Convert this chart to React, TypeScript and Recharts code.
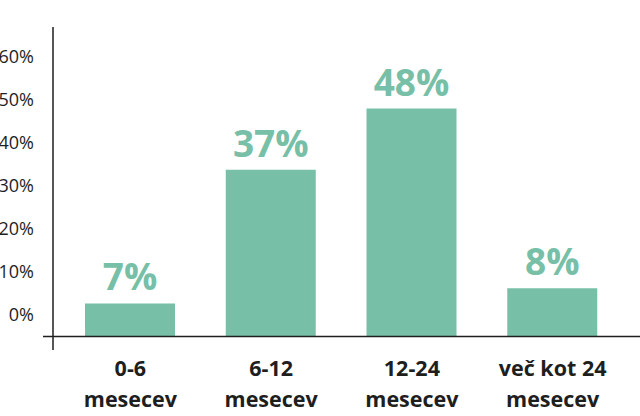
import { BarChart, Bar, XAxis, YAxis, LabelList, ReferenceLine } from 'recharts';

// categories (two-line labels), printed shares and bar tops as drawn on the axis
const categories = ['0-6\nmesecev', '6-12\nmesecev', '12-24\nmesecev', 'več kot 24\nmesecev'];
const shares = [7, 37, 48, 8];
const barTops = [2.7, 33.8, 48, 6.2];
const baseline = -5;
const yTicks = [0, 10, 20, 30, 40, 50, 60];

const GREEN = '#77bfa7';
const INK = '#1e1e1e';
const FONT = "'Open Sans', sans-serif";

const data = categories.map((name, i) => ({
  name,
  range: [baseline, barTops[i]],
  label: `${shares[i]}%`,
}));

const CategoryTick = ({ x, y, payload }: any) => {
  const lines = String(payload.value).split('\n');
  return (
    <text x={x} y={y} textAnchor="middle" fill={INK} fontFamily={FONT} fontSize={21.5} fontWeight={700}>
      {lines.map((l, i) => (
        <tspan key={i} x={x} dy={i === 0 ? 25.5 : 31}>
          {l}
        </tspan>
      ))}
    </text>
  );
};

const AxisBase = (p: any) => (
  <line x1={p.x1 - 10} y1={p.y1} x2={p.x2} y2={p.y2} stroke={INK} strokeWidth={1.5} />
);

const App = () => {
  return (
    <div style={{ position: 'absolute', left: 0, top: 0 }}>
      <BarChart width={640} height={416} data={data} margin={{ top: 27, right: 0, bottom: 0, left: 0 }}>
        <XAxis
          dataKey="name"
          axisLine={false}
          tickLine={false}
          tickSize={0}
          tickMargin={0}
          height={66}
          interval={0}
          padding={{ left: 7, right: 17 }}
          tick={<CategoryTick />}
        />
        <YAxis
          type="number"
          domain={[-8.13, 66.97]}
          allowDataOverflow
          ticks={yTicks}
          width={53}
          tickSize={0}
          tickMargin={19}
          tickLine={false}
          axisLine={{ stroke: INK, strokeWidth: 1.5 }}
          tickFormatter={(v) => `${v}%`}
          tick={{ fill: INK, fontSize: 18, fontFamily: FONT }}
        />
        <Bar dataKey="range" fill={GREEN} barSize={90} isAnimationActive={false}>
          <LabelList
            dataKey="label"
            position="top"
            offset={13}
            fill={GREEN}
            fontSize={37}
            fontWeight={700}
            fontFamily={FONT}
          />
        </Bar>
        <ReferenceLine y={baseline} shape={AxisBase} />
      </BarChart>
    </div>
  );
};

export default App;
